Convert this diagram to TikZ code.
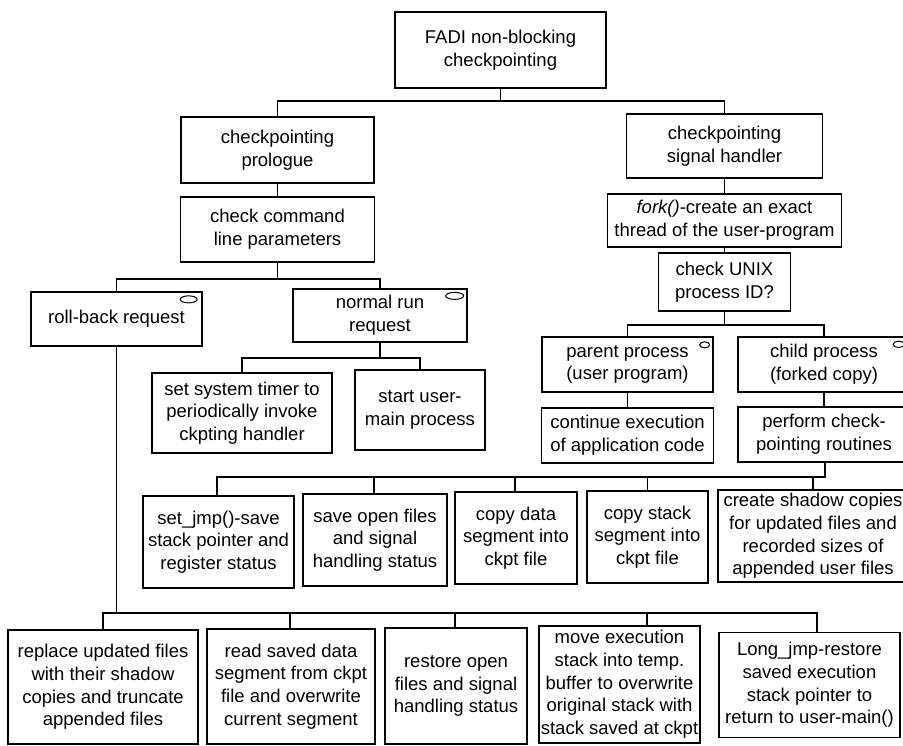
\documentclass[tikz,border=0pt]{standalone}
\usepackage{fontspec}
\setmainfont{Liberation Sans}
\begin{document}
\begin{tikzpicture}[x=1pt,y=-1pt,
  box/.style={draw, line width=1.3pt, inner sep=0pt, align=center, font=\fontsize{18.5}{22.7}\selectfont},
  conn/.style={line width=1.3pt},
  oval/.style={draw, line width=1pt}]
\useasboundingbox[fill=white] (0,0) rectangle (903,746);
% level nodes
\node[box, minimum width=211pt, minimum height=76pt] (fadi) at (500.5,50) {FADI non-blocking\\checkpointing};
\node[box, minimum width=193pt, minimum height=66pt] (pro) at (277.5,150) {checkpointing\\prologue};
\node[box, minimum width=196pt, minimum height=64pt] (sig) at (724.5,146) {checkpointing\\signal handler};
\node[box, minimum width=194pt, minimum height=65pt] (cmd) at (277.5,229.5) {check command\\line parameters};
\node[box, minimum width=234pt, minimum height=53pt] (fork) at (724.5,220.5) {\textit{fork()}-create an exact\\thread of the user-program};
\node[box, minimum width=132pt, minimum height=58pt] (unix) at (724.5,282) {check UNIX\\process ID?};
\node[box, minimum width=171pt, minimum height=54pt] (rb) at (116.5,319) {roll-back request};
\node[box, minimum width=174pt, minimum height=53pt] (nr) at (380,315.5) {normal run\\request};
\node[box, minimum width=180pt, minimum height=80pt] (st) at (242,413) {set system timer to\\periodically invoke\\ckpting handler};
\node[box, minimum width=130pt, minimum height=80pt] (su) at (420,410) {start user-\\main process};
\node[box, minimum width=171pt, minimum height=55pt] (par) at (627.5,364.5) {parent process\\(user program)};
\node[box, minimum width=172pt, minimum height=55pt] (chi) at (824,364.5) {child process\\(forked copy)};
\node[box, minimum width=172pt, minimum height=55pt] (cont) at (627.5,435.5) {continue execution\\of application code};
\node[box, minimum width=172pt, minimum height=55pt] (perf) at (824,434.5) {perform check-\\pointing routines};
% checkpoint routines
\node[box, minimum width=151pt, minimum height=92pt] (sj) at (218.5,542) {set\_jmp()-save\\stack pointer and\\register status};
\node[box, minimum width=144pt, minimum height=92pt] (so) at (375,540) {save open files\\and signal\\handling status};
\node[box, minimum width=122pt, minimum height=92pt] (cd) at (516,538) {copy data\\segment into\\ckpt file};
\node[box, minimum width=121pt, minimum height=92pt] (cs) at (647.5,537) {copy stack\\segment into\\ckpt file};
\node[box, minimum width=190pt, minimum height=92pt] (sh) at (813,536) {create shadow copies\\for updated files and\\recorded sizes of\\appended user files};
% roll-back routines
\node[box, minimum width=190pt, minimum height=114pt] (rep) at (103,687) {replace updated files\\with their shadow\\copies and truncate\\appended files};
\node[box, minimum width=168pt, minimum height=115pt] (rd) at (291,686.5) {read saved data\\segment from ckpt\\file and overwrite\\current segment};
\node[box, minimum width=142pt, minimum height=116pt] (rs) at (456,686) {restore open\\files and signal\\handling status};
\node[box, minimum width=161pt, minimum height=117pt] (mv) at (619.5,684.5) {move execution\\stack into temp.\\buffer to overwrite\\original stack with\\stack saved at ckpt};
\node[box, minimum width=181pt, minimum height=105pt] (lj) at (809.5,685) {Long\_jmp-restore\\saved execution\\stack pointer to\\return to user-main()};
% ovals
\draw[oval] ([xshift=-14pt,yshift=-8pt]rb.north east) ellipse [x radius=8.5pt, y radius=3.5pt];
\draw[oval] ([xshift=-13pt,yshift=-7.5pt]nr.north east) ellipse [x radius=9pt, y radius=3.5pt];
\draw[oval] ([xshift=-9pt,yshift=-8.5pt]par.north east) ellipse [x radius=5pt, y radius=3pt];
\draw[oval] ([xshift=-12pt,yshift=-8pt]chi.north east) ellipse [x radius=5.5pt, y radius=3.2pt];
% bar levels
\coordinate (b1) at (0,101);
\coordinate (b2) at (0,279);
\coordinate (b3) at (0,358);
\coordinate (b4) at (0,325);
\coordinate (b5) at (0,477);
\coordinate (b6) at (0,613);
% connectors
\draw[conn] (fadi.south) -- (fadi.south |- b1) -| (pro.north);
\draw[conn] (fadi.south) -- (fadi.south |- b1) -| (sig.north);
\draw[conn] (pro.south) -- (cmd.north);
\draw[conn] (sig.south) -- (fork.north);
\draw[conn] (fork.south) -- (unix.north);
\draw[conn] (cmd.south) -- (cmd.south |- b2) -| (rb.north);
\draw[conn] (cmd.south) -- (cmd.south |- b2) -| (nr.north);
\draw[conn] (nr.south) -- (nr.south |- b3) -| (st.north);
\draw[conn] (nr.south) -- (nr.south |- b3) -| (su.north);
\draw[conn] (unix.south) -- (unix.south |- b4) -| (par.north);
\draw[conn] (unix.south) -- (unix.south |- b4) -| (chi.north);
\draw[conn] (par.south) -- (cont.north);
\draw[conn] (chi.south) -- (perf.north);
\draw[conn] ([xshift=1pt]perf.south) -- ([xshift=1pt]perf.south |- b5) -| ([xshift=-1.5pt]sj.north);
\draw[conn] ([xshift=1pt]perf.south) -- ([xshift=1pt]perf.south |- b5) -| ([xshift=-1pt]so.north);
\draw[conn] ([xshift=1pt]perf.south) -- ([xshift=1pt]perf.south |- b5) -| ([xshift=-1pt]cd.north);
\draw[conn] ([xshift=1pt]perf.south) -- ([xshift=1pt]perf.south |- b5) -| (cs.north);
\draw[conn] ([xshift=1pt]perf.south) -- ([xshift=1pt]perf.south |- b5) -| (sh.north);
\draw[conn] (rb.south) -- (rb.south |- b6) -| (rep.north);
\draw[conn] (rb.south) -- (rb.south |- b6) -| ([xshift=-1pt]rd.north);
\draw[conn] (rb.south) -- (rb.south |- b6) -| ([xshift=-1pt]rs.north);
\draw[conn] (rb.south) -- (rb.south |- b6) -| ([xshift=27.5pt]mv.north);
\draw[conn] (rb.south) -- (rb.south |- b6) -| ([xshift=7.5pt]lj.north);
\end{tikzpicture}
\end{document}
